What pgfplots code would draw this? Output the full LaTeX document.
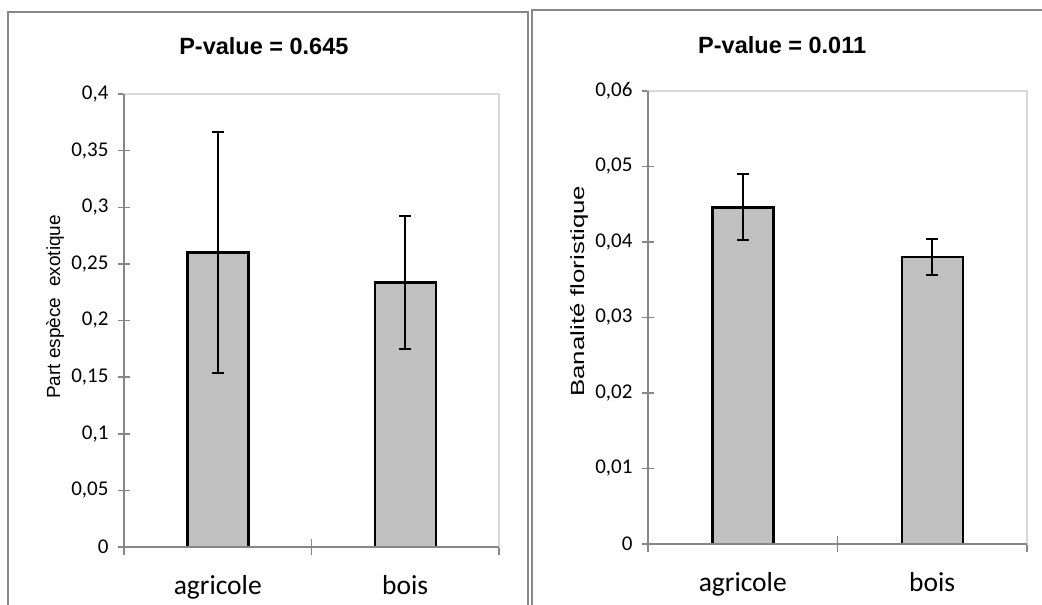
\documentclass[border=0pt]{standalone}
\usepackage{fontspec}
\setmainfont{Liberation Sans}
\newfontfamily\calibri{Carlito}
\usepackage{pgfplots}
\pgfplotsset{compat=1.18}
\definecolor{axgray}{HTML}{868686}
\definecolor{lightax}{HTML}{D9D9D9}
\definecolor{barfill}{HTML}{C0C0C0}
\definecolor{framegray}{HTML}{888888}
\pgfplotsset{
 mybar/.style={
  scale only axis,
  anchor=south west,
  ybar, bar width=61pt,
  xmin=-0.5, xmax=1.5, ymin=0,
  xtick={0,1}, xticklabels={agricole,bois},
  major x tick style={draw=none},
  minor xtick={-0.5,0.5,1.5},
  minor tick length=16pt,
  major tick length=12pt,
  tick align=center,
  tick pos=left,
  scaled y ticks=false,
  y tick style={axgray, line width=1.5pt},
  minor x tick style={axgray, line width=1.5pt},
  axis line style={lightax, line width=1.5pt},
  /pgf/number format/assume math mode=true,
  /pgf/number format/use comma,
  /pgf/number format/fixed,
  /pgf/number format/precision=2,
  yticklabel style={font=\calibri\fontsize{21}{24}\selectfont, xshift=-6pt},
  xticklabel style={font=\calibri\fontsize{27.5}{31}\selectfont, yshift=-19pt},
  every axis title/.style={font=\bfseries\fontsize{23.5}{28}\selectfont, anchor=center},
  every axis y label/.style={font=\fontsize{19}{23}\selectfont, rotate=90, anchor=center},
  clip=false,
 },
 mybars/.style={fill=barfill, draw=black, line width=2.5pt,
  error bars/.cd, y dir=both, y explicit,
  error bar style={line width=2pt, black},
  error mark options={rotate=90, mark size=6pt, line width=2pt, black}},
}
\begin{document}
\begin{tikzpicture}
\path[use as bounding box] (0,0) rectangle (1042pt,-605pt);
\draw[framegray, line width=1.5pt] (8pt,-640pt) |- (528pt,-12pt) -- (528pt,-640pt);
\draw[framegray, line width=1.5pt] (532pt,-640pt) |- (1080pt,-10pt);
\begin{axis}[mybar, at={(124pt,-547pt)}, width=375pt, height=453pt,
  ymax=0.4, ytick={0,0.05,0.1,0.15,0.2,0.25,0.3,0.35,0.4},
  title={P-value = 0.645},
  title style={at={(rel axis cs:0.373,1.106)}},
  ylabel={Part espèce\ \ exotique},
  ylabel style={at={([xshift=-69pt]rel axis cs:0,0.53)}}]
\addplot[mybars] coordinates {(0,0.26) +- (0,0.1067) (1,0.2334) +- (0,0.0588)};
\draw[axgray, line width=1.5pt] (rel axis cs:0,1) -- (rel axis cs:0,0) -- (rel axis cs:1,0);
\end{axis}
\begin{axis}[mybar, at={(648pt,-544pt)}, width=379pt, height=453pt,
  ymax=0.06, ytick={0,0.01,0.02,0.03,0.04,0.05,0.06},
  title={P-value = 0.011},
  title style={at={(rel axis cs:0.354,1.1015)}},
  ylabel={\scalebox{1.36}[1]{Banalité floristique}},
  ylabel style={at={([xshift=-69pt]rel axis cs:0,0.558)}}]
\addplot[mybars] coordinates {(0,0.0446) +- (0,0.00435) (1,0.038) +- (0,0.0024)};
\draw[axgray, line width=1.5pt] (rel axis cs:0,1) -- (rel axis cs:0,0) -- (rel axis cs:1,0);
\end{axis}
\end{tikzpicture}
\end{document}
